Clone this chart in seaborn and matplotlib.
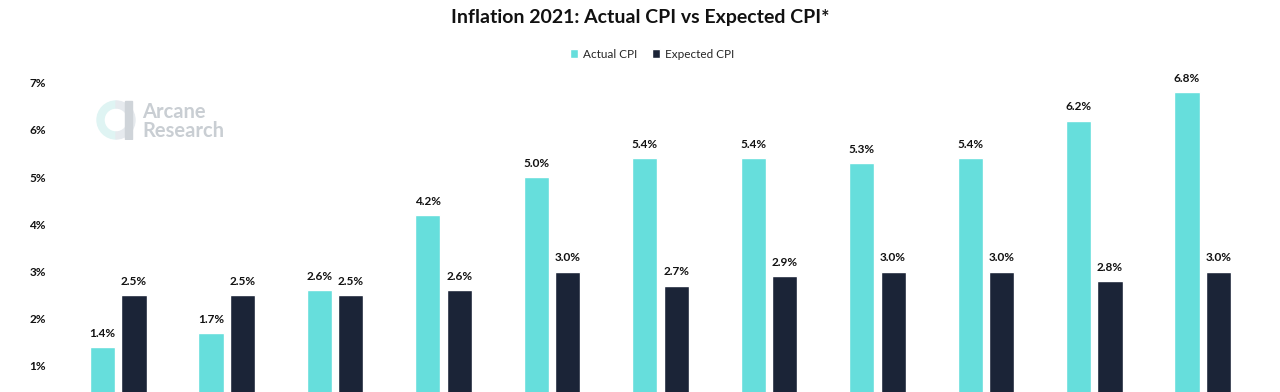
import numpy as np
import pandas as pd
import seaborn as sns
import matplotlib.pyplot as plt
from matplotlib.patches import Wedge

# Data (Jan - Nov 2021)
months = ["Jan", "Feb", "Mar", "Apr", "May", "Jun", "Jul", "Aug", "Sep", "Oct", "Nov"]
actual_cpi = [1.4, 1.7, 2.6, 4.2, 5.0, 5.4, 5.4, 5.3, 5.4, 6.2, 6.8]
expected_cpi = [2.5, 2.5, 2.5, 2.6, 3.0, 2.7, 2.9, 3.0, 3.0, 2.8, 3.0]
series_names = ["Actual CPI", "Expected CPI"]
y_ticks = [1, 2, 3, 4, 5, 6, 7]

df = pd.DataFrame({
    "month": months * 2,
    "value": actual_cpi + expected_cpi,
    "series": [series_names[0]] * len(months) + [series_names[1]] * len(months),
})

sns.set_theme(style="white")
plt.rcParams["font.family"] = ["Lato", "DejaVu Sans"]

fig = plt.figure(figsize=(12.8, 3.92), dpi=100)
ax = fig.add_axes([0.05, 0.0, 0.932, 0.837])

palette = {"Actual CPI": "#66dedc", "Expected CPI": "#1b2437"}
sns.barplot(data=df, x="month", y="value", hue="series", palette=palette,
            width=0.58, gap=0.2, ax=ax, saturation=1)

for cont in ax.containers:
    ax.bar_label(cont, labels=[f"{v:.1f}%" for v in cont.datavalues],
                 padding=6, fontsize=8.5, fontweight="bold", color="#111111")

ax.set_ylim(0.447, 7.4)
ax.set_xlim(-0.5, len(months) - 0.5)
ax.set_yticks(y_ticks)
ax.set_yticklabels([f"{t}%" for t in y_ticks], fontsize=8.5, fontweight="bold", color="#111111")
ax.tick_params(axis="y", length=0, pad=13)
ax.set_xticks([])
ax.set_xlabel("")
ax.set_ylabel("")
sns.despine(ax=ax, left=True, bottom=True)

handles, labels = ax.get_legend_handles_labels()
ax.get_legend().remove()
fig.legend(handles, labels, loc="center", bbox_to_anchor=(652 / 1280, 1 - 54 / 392),
           ncol=2, frameon=False, fontsize=8.5,
           handlelength=0.7, handleheight=0.7, handletextpad=0.4, columnspacing=1.2)

fig.suptitle("Inflation 2021: Actual CPI vs Expected CPI*", x=0.5, y=1 - 17 / 392,
             va="center", fontsize=14, fontweight="bold", color="#111111")

# Watermark
fig.text(142 / 1280, 1 - 112 / 392, "Arcane", fontsize=14.5, fontweight="bold",
         color="#c9ced3", va="center", ha="left")
fig.text(142 / 1280, 1 - 131 / 392, "Research", fontsize=14.5, fontweight="bold",
         color="#c9ced3", va="center", ha="left")
wax = fig.add_axes([96 / 1280, 1 - 140 / 392, 40 / 1280, 40 / 392])
wax.set_xlim(-1, 1)
wax.set_ylim(-1, 1)
wax.set_aspect("equal")
wax.axis("off")
wax.add_patch(Wedge((0, 0), 0.95, 90, 270, width=0.35, color="#dff4f3"))
wax.add_patch(Wedge((0, 0), 0.95, -90, 90, width=0.35, color="#e6eaee"))
wax.add_patch(plt.Rectangle((0.45, -0.95), 0.35, 1.9, color="#cfd4d9"))

fig.savefig("out.png", dpi=100)
